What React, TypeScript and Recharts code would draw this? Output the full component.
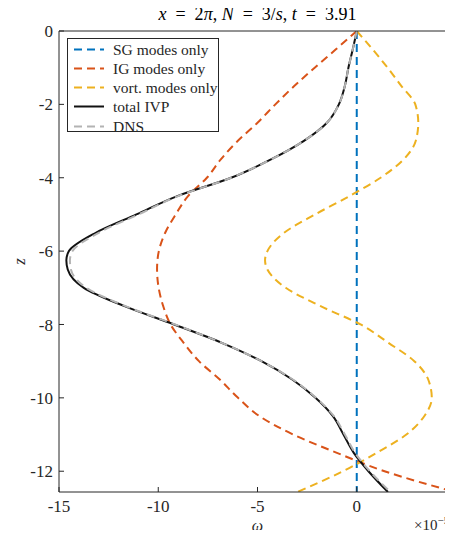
import React from 'react';
import { LineChart, Line, XAxis, YAxis, Legend, Label } from 'recharts';

// Depth levels (z) at which each profile is sampled
const depth = [0, -0.5, -1, -1.5, -2, -2.5, -3, -3.5, -4, -4.5, -5, -5.5, -6, -6.25, -6.5, -7, -7.5, -8, -8.5, -9, -9.5, -10, -10.5, -11, -11.5, -12, -12.566];

// Vorticity profiles (units of 1e-5)
const sgModes = [0, 0, 0, 0, 0, 0, 0, 0, 0, 0, 0, 0, 0, 0, 0, 0, 0, 0, 0, 0, 0, 0, 0, 0, 0, 0, 0];
const igModes = [0, -1.05, -2.12, -3.15, -4.1, -5.0, -6.0, -6.85, -7.55, -8.5, -9.12, -9.65, -9.97, -10.04, -10.06, -9.98, -9.75, -9.38, -8.72, -7.95, -6.9, -5.98, -4.9, -3.2, -1.0, 1.4, 4.95];
const vortModes = [0, 0.8, 1.55, 2.25, 2.95, 3.1, 2.97, 2.36, 1.2, -0.37, -2.1, -3.66, -4.5, -4.62, -4.5, -3.58, -1.82, 0.19, 1.6, 2.9, 3.6, 3.78, 3.4, 2.5, 1.0, -0.69, -3.0];
const totalIvp = [0, -0.2, -0.42, -0.6, -0.9, -1.5, -2.68, -4.32, -6.33, -9.04, -11.1, -13.15, -14.5, -14.63, -14.56, -13.75, -11.7, -9.2, -6.8, -4.8, -3.25, -2.08, -1.2, -0.67, -0.15, 0.59, 1.57];
const dns = [0, -0.2, -0.42, -0.6, -0.9, -1.5, -2.68, -4.32, -6.33, -9.0, -11.0, -13.0, -14.32, -14.45, -14.4, -13.62, -11.65, -9.15, -6.8, -4.8, -3.22, -2.05, -1.15, -0.6, -0.08, 0.66, 1.7];

const xTicks = [-15, -10, -5, 0, 5];
const zTicks = [0, -2, -4, -6, -8, -10, -12];
const legendOrder = ['SG modes only', 'IG modes only', 'vort. modes only', 'total IVP', 'DNS'];

const rows = depth.map((z, i) => ({
  z,
  sg: sgModes[i],
  ig: igModes[i],
  vort: vortModes[i],
  total: totalIvp[i],
  dns: dns[i],
}));

const SERIF = '"Liberation Serif", "DejaVu Serif", serif';
const AXIS = '#262626';
const DASH = '8 5';
const EN = '\u2002';

const renderLegend = (props: any) => {
  const items = [...(props.payload || [])].sort(
    (a: any, b: any) => legendOrder.indexOf(a.value) - legendOrder.indexOf(b.value)
  );
  return (
    <div
      style={{
        position: 'relative',
        width: 152,
        height: 94,
        boxSizing: 'border-box',
        border: `1px solid ${AXIS}`,
        background: '#fff',
        fontFamily: SERIF,
        fontSize: 15.5,
        color: AXIS,
      }}
    >
      {items.map((item: any, i: number) => (
        <div
          key={item.value}
          style={{
            position: 'absolute',
            left: 0,
            top: 0.5 + i * 19.25,
            height: 19,
            display: 'flex',
            alignItems: 'center',
            whiteSpace: 'nowrap',
          }}
        >
          <svg width={45} height={19} style={{ display: 'block' }}>
            <line
              x1={6}
              x2={36}
              y1={9.5}
              y2={9.5}
              stroke={item.color}
              strokeWidth={2}
              strokeDasharray={item.payload && item.payload.strokeDasharray}
            />
          </svg>
          <span style={{ lineHeight: '19px' }}>{item.value}</span>
        </div>
      ))}
    </div>
  );
};

const tickStyle = { fill: AXIS, fontSize: 17, fontFamily: SERIF };

export default function App() {
  return (
    <div style={{ margin: -8, width: 453, height: 538, overflow: 'hidden', position: 'relative' }}>
      <LineChart
        width={470}
        height={538}
        data={rows}
        layout="vertical"
        margin={{ top: 30, right: 13, bottom: 0, left: 0 }}
      >
        <XAxis
          xAxisId="b"
          type="number"
          orientation="bottom"
          domain={[-15, 5]}
          ticks={xTicks}
          allowDataOverflow
          height={46}
          tickSize={-5}
          tickMargin={13}
          stroke={AXIS}
          tick={tickStyle}
        >
          <Label
            content={({ viewBox }: any) => (
              <text
                x={viewBox.x + viewBox.width / 2}
                y={viewBox.y + 39}
                textAnchor="middle"
                fontFamily={SERIF}
                fontStyle="italic"
                fontSize={16}
                fill={AXIS}
              >
                ω
              </text>
            )}
          />
          <Label
            content={({ viewBox }: any) => (
              <text
                x={viewBox.x + viewBox.width - 42}
                y={viewBox.y + 38}
                textAnchor="start"
                fontFamily={SERIF}
                fontSize={15}
                fill={AXIS}
              >
                ×10
                <tspan dy={-6} fontSize={11}>−5</tspan>
              </text>
            )}
          />
        </XAxis>
        <XAxis
          xAxisId="t"
          type="number"
          orientation="top"
          domain={[-15, 5]}
          ticks={xTicks}
          allowDataOverflow
          height={1}
          tickSize={-5}
          tick={false}
          stroke={AXIS}
        >
          <Label
            content={({ viewBox }: any) => (
              <text
                x={viewBox.x + viewBox.width / 2}
                y={viewBox.y + viewBox.height - 11}
                textAnchor="middle"
                fontFamily={SERIF}
                fontSize={18}
                fill="#000"
              >
                <tspan fontStyle="italic">x</tspan>
                <tspan>{`${EN}=${EN}2`}</tspan>
                <tspan fontStyle="italic">π</tspan>
                <tspan>{', '}</tspan>
                <tspan fontStyle="italic">N</tspan>
                <tspan>{`${EN}=${EN}3/`}</tspan>
                <tspan fontStyle="italic">s</tspan>
                <tspan>{', '}</tspan>
                <tspan fontStyle="italic">t</tspan>
                <tspan>{`${EN}=${EN}3.91`}</tspan>
              </text>
            )}
          />
        </XAxis>
        <YAxis
          yAxisId="l"
          type="number"
          dataKey="z"
          domain={[-4 * Math.PI, 0]}
          ticks={zTicks}
          allowDataOverflow
          reversed
          width={59}
          tickSize={-5}
          tickMargin={11}
          stroke={AXIS}
          tick={tickStyle}
        >
          <Label
            content={({ viewBox }: any) => (
              <text
                x={25}
                y={viewBox.y + viewBox.height / 2}
                transform={`rotate(-90 25 ${viewBox.y + viewBox.height / 2})`}
                textAnchor="middle"
                fontFamily={SERIF}
                fontStyle="italic"
                fontSize={17}
                fill={AXIS}
              >
                z
              </text>
            )}
          />
        </YAxis>
        <YAxis
          yAxisId="r"
          type="number"
          orientation="right"
          domain={[-4 * Math.PI, 0]}
          ticks={zTicks}
          allowDataOverflow
          reversed
          width={1}
          tickSize={-5}
          tick={false}
          stroke={AXIS}
        />
        <Legend
          layout="vertical"
          align="center"
          verticalAlign="middle"
          wrapperStyle={{ left: 67, top: 38, width: 152 }}
          content={renderLegend}
        />
        <Line
          xAxisId="b"
          yAxisId="l"
          dataKey="sg"
          name="SG modes only"
          stroke="#0072BD"
          strokeWidth={2}
          strokeDasharray={DASH}
          dot={false}
          type="monotone"
          isAnimationActive={false}
        />
        <Line
          xAxisId="b"
          yAxisId="l"
          dataKey="ig"
          name="IG modes only"
          stroke="#D95319"
          strokeWidth={2}
          strokeDasharray={DASH}
          dot={false}
          type="monotone"
          isAnimationActive={false}
        />
        <Line
          xAxisId="b"
          yAxisId="l"
          dataKey="vort"
          name="vort. modes only"
          stroke="#EDB120"
          strokeWidth={2}
          strokeDasharray={DASH}
          dot={false}
          type="monotone"
          isAnimationActive={false}
        />
        <Line
          xAxisId="b"
          yAxisId="l"
          dataKey="total"
          name="total IVP"
          stroke="#111111"
          strokeWidth={2}
          dot={false}
          type="monotone"
          isAnimationActive={false}
        />
        <Line
          xAxisId="b"
          yAxisId="l"
          dataKey="dns"
          name="DNS"
          stroke="#B3B3B3"
          strokeWidth={2}
          strokeDasharray={DASH}
          dot={false}
          type="monotone"
          isAnimationActive={false}
        />
      </LineChart>
    </div>
  );
}
